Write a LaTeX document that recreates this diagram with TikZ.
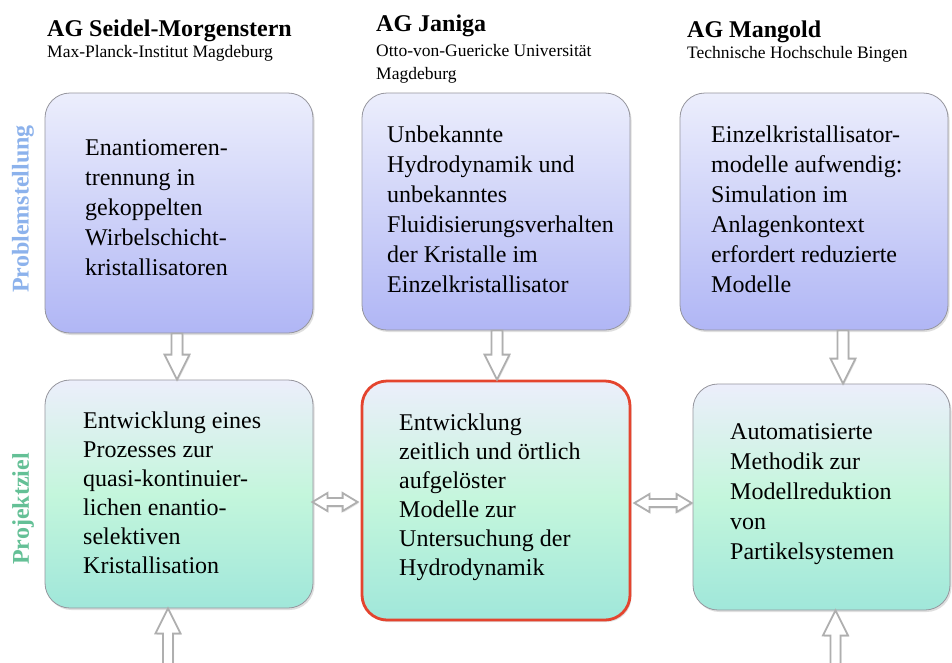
\documentclass[tikz,border=0pt]{standalone}
\usepackage{fontspec}
\setmainfont{Liberation Serif}
\usetikzlibrary{calc,shadows}
\definecolor{protop}{RGB}{236,238,252}
\definecolor{probot}{RGB}{176,182,245}
\definecolor{zieltop}{RGB}{236,238,251}
\definecolor{zielmid}{RGB}{196,246,220}
\definecolor{zielbot}{RGB}{160,231,218}
\definecolor{boxline}{RGB}{150,150,158}
\definecolor{redline}{RGB}{228,68,46}
\definecolor{problue}{RGB}{140,178,236}
\definecolor{zielgreen}{RGB}{100,192,150}
\definecolor{arrline}{RGB}{175,175,175}
\newcommand\hollowv[5]{%
  \coordinate (hh) at ($(#2)!#5!(#1)$);
  \draw[barrow] ($(#1)!#3!90:(#2)$) -- ($(hh)!#3!-90:(#1)$) -- ($(hh)!#4!-90:(#1)$) -- (#2)
    -- ($(hh)!#4!90:(#1)$) -- ($(hh)!#3!90:(#1)$) -- ($(#1)!#3!-90:(#2)$) -- cycle;}
\newcommand\hollowd[5]{%
  \coordinate (ha) at ($(#1)!#5!(#2)$);
  \coordinate (hb) at ($(#2)!#5!(#1)$);
  \draw[barrow] (#1) -- ($(ha)!#4!90:(#2)$) -- ($(ha)!#3!90:(#2)$) -- ($(hb)!#3!-90:(#1)$)
    -- ($(hb)!#4!-90:(#1)$) -- (#2) -- ($(hb)!#4!90:(#1)$) -- ($(hb)!#3!90:(#1)$)
    -- ($(ha)!#3!-90:(#2)$) -- ($(ha)!#4!-90:(#2)$) -- cycle;}
\begin{document}
\begin{tikzpicture}[x=1pt,y=-1pt,
  probox/.style={draw=boxline, line width=0.8pt, rounded corners=25pt, top color=protop, bottom color=probot,
    drop shadow={opacity=0.25, shadow xshift=1.5pt, shadow yshift=-2pt}},
  zielbox/.style={draw=boxline, line width=0.8pt, rounded corners=25pt, top color=zieltop, bottom color=zielbot, middle color=zielmid,
    drop shadow={opacity=0.25, shadow xshift=1.5pt, shadow yshift=-2pt}},
  boxtext/.style={anchor=west, align=left, inner sep=0pt, font=\fontsize{24}{30}\selectfont},
  boxtextb/.style={anchor=west, align=left, inner sep=0pt, font=\fontsize{24}{29}\selectfont},
  head/.style={anchor=base west, inner sep=0pt, font=\fontsize{24}{28}\selectfont\bfseries},
  sub/.style={anchor=base west, inner sep=0pt, font=\fontsize{17.5}{21}\selectfont},
  side/.style={rotate=90, inner sep=0pt, font=\fontsize{24}{28}\selectfont\bfseries},
  barrow/.style={draw=arrline, line width=1.8pt, fill=white, line join=miter,
    drop shadow={opacity=0.2, shadow xshift=1pt, shadow yshift=-1.5pt}}
]
\useasboundingbox (0,0) rectangle (952,662);
\fill[white] (0,0) rectangle (952,662);

% headers
\node[head] (h1) at (47,36) {AG Seidel-Morgenstern};
\node[sub] (s1) at (47,57) {Max-Planck-Institut Magdeburg};
\node[head] (h2) at (376,31) {AG Janiga};
\node[sub] (s2) at (376,56) {Otto-von-Guericke Universität};
\node[sub] (s2b) at (376,79) {Magdeburg};
\node[head] (h3) at (687,37) {AG Mangold};
\node[sub] (s3) at (687,58) {Technische Hochschule Bingen};

% side labels
\node[side, text=problue] (p1) at (23,209) {Problemstellung};
\node[side, text=zielgreen] (p2) at (23,509) {Projektziel};

% boxes
\node[probox, minimum width=268pt, minimum height=240pt] (b1) at (179,213) {};
\node[probox, minimum width=268pt, minimum height=237pt] (b2) at (496,211.5) {};
\node[probox, minimum width=268pt, minimum height=237pt] (b3) at (814,211.5) {};
\node[zielbox, minimum width=268pt, minimum height=228pt] (b4) at (179,494) {};
\node[zielbox, draw=redline, line width=2.8pt, minimum width=268pt, minimum height=239pt] (b5) at (496,500.5) {};
\node[zielbox, minimum width=257pt, minimum height=226pt] (b6) at (821.5,497) {};

% box texts
\node[boxtext] (t1) at (85,208) {Enantiomeren-\\trennung in\\gekoppelten\\Wirbelschicht-\\kristallisatoren};
\node[boxtext] (t2) at (387,209) {Unbekannte\\Hydrodynamik und\\unbekanntes\\Fluidisierungsverhalten\\der Kristalle im\\Einzelkristallisator};
\node[boxtext] (t3) at (711,209) {Einzelkristallisator-\\modelle aufwendig:\\Simulation im\\Anlagenkontext\\erfordert reduzierte\\Modelle};
\node[boxtextb] (t4) at (83,493) {Entwicklung eines\\Prozesses zur\\quasi-kontinuier-\\lichen enantio-\\selektiven\\Kristallisation};
\node[boxtextb] (t5) at (399,497) {Entwicklung\\zeitlich und örtlich\\aufgelöster\\Modelle zur\\Untersuchung der\\Hydrodynamik};
\node[boxtext] (t6) at (730,494) {Automatisierte\\Methodik zur\\Modellreduktion\\von\\Partikelsystemen};

% arrow end points
\coordinate (a1s) at ($(b1.south)+(-2,0)$);
\coordinate (a1e) at (a1s |- b4.north);
\coordinate (a2s) at ($(b2.south)+(1,0)$);
\coordinate (a2e) at (a2s |- b5.north);
\coordinate (a3s) at ($(b3.south)+(29,0)$);
\coordinate (a3e) at (a3s |- b6.north);
\coordinate (u1e) at ($(b4.south)+(-11,0)$);
\coordinate (u1s) at ($(u1e)+(0,56)$);
\coordinate (u2e) at ($(b6.south)+(14,0)$);
\coordinate (u2s) at ($(u2e)+(0,56)$);
\coordinate (d1a) at ($(b4.east)+(-1,8)$);
\coordinate (d1b) at ($(d1a -| b5.west)+(-3,0)$);
\coordinate (d2a) at ($(b5.east)+(3,2.5)$);
\coordinate (d2b) at ($(d2a -| b6.west)+(-1,0)$);

% arrows
\hollowv{a1s}{a1e}{5.5pt}{12.5pt}{25pt}
\hollowv{a2s}{a2e}{5.5pt}{12.5pt}{25pt}
\hollowv{a3s}{a3e}{5.5pt}{12.5pt}{25pt}
\hollowv{u1s}{u1e}{5pt}{12.5pt}{25pt}
\hollowv{u2s}{u2e}{5pt}{12.5pt}{25pt}
\hollowd{d1a}{d1b}{4pt}{9pt}{15pt}
\hollowd{d2a}{d2b}{4pt}{9pt}{15pt}
\end{tikzpicture}
\end{document}
